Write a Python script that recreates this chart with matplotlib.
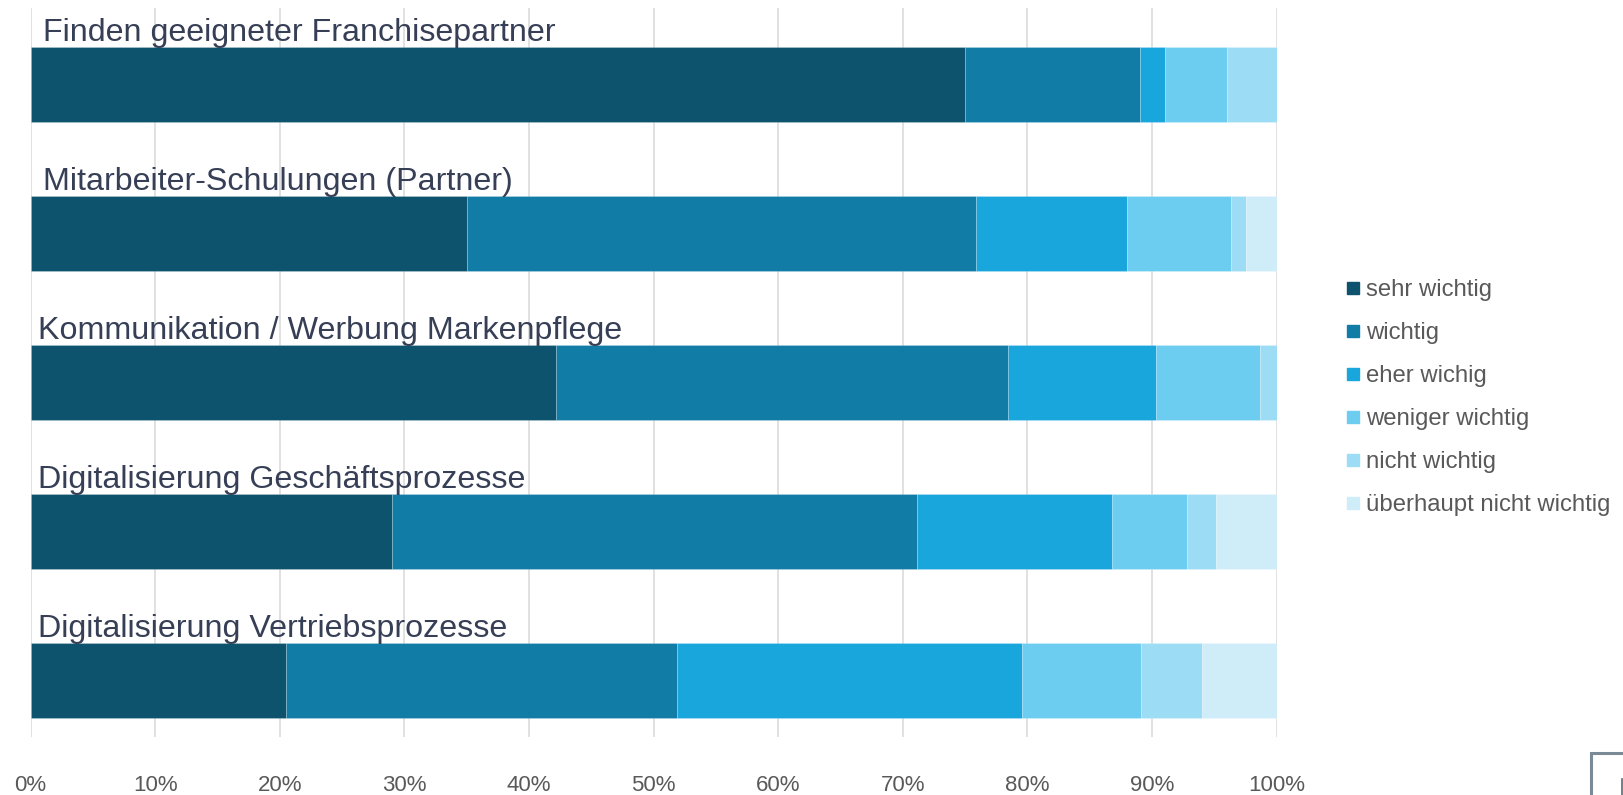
import matplotlib.pyplot as plt
from matplotlib.lines import Line2D
from matplotlib.patches import Rectangle
import numpy as np

plt.rcParams['font.family'] = ['Liberation Sans', 'DejaVu Sans']

categories = [
    "Finden geeigneter Franchisepartner",
    "Mitarbeiter-Schulungen (Partner)",
    "Kommunikation / Werbung Markenpflege",
    "Digitalisierung Geschäftsprozesse",
    "Digitalisierung Vertriebsprozesse",
]
series_names = ["sehr wichtig", "wichtig", "eher wichig", "weniger wichtig",
                "nicht wichtig", "überhaupt nicht wichtig"]

# shares in percent per category
sehr_wichtig = [75.0, 35.0, 42.2, 29.0, 20.5]
wichtig = [14.0, 40.9, 36.2, 42.1, 31.4]
eher_wichtig = [2.0, 12.1, 11.9, 15.7, 27.65]
weniger_wichtig = [5.0, 8.3, 8.4, 6.0, 9.55]
nicht_wichtig = [4.0, 1.2, 1.3, 2.3, 4.9]
ueberhaupt_nicht = [0.0, 2.5, 0.0, 4.9, 6.0]

tick_values = [0, 10, 20, 30, 40, 50, 60, 70, 80, 90, 100]

colors = ["#0e536e", "#117ca6", "#19a6dd", "#6ccdf0", "#9ddcf5", "#ceedf8"]

series = [sehr_wichtig, wichtig, eher_wichtig, weniger_wichtig,
          nicht_wichtig, ueberhaupt_nicht]

fig = plt.figure(figsize=(16.23, 7.95), dpi=100)
ax = fig.add_axes([0.0189, 0.073, 0.7677, 0.9166])

y = np.arange(len(categories))
left = np.zeros(len(categories))
for vals, col in zip(series, colors):
    ax.barh(y, vals, left=left, height=0.5, color=col,
            edgecolor=(1, 1, 1, 0.2), linewidth=0.7, zorder=2)
    left += np.array(vals)

# category names sit above each bar
label_x = [1.0, 1.0, 0.6, 0.6, 0.6]
for i, name in enumerate(categories):
    ax.text(label_x[i], y[i] - 0.29, name, fontsize=23.2, color="#363f55",
            va="baseline", ha="left", zorder=3)

ax.set_xlim(0, 100)
ax.set_ylim(4.38, -0.51)
ax.set_xticks(tick_values)
ax.set_xticklabels([f"{v}%" for v in tick_values], fontsize=16, color="#595959")
ax.set_yticks([])
ax.tick_params(axis="x", length=0, pad=27.5)
ax.grid(axis="x", color="#d9d9d9", linewidth=1.1)
ax.set_axisbelow(True)
for s in ax.spines.values():
    s.set_visible(False)

handles = [Line2D([0], [0], marker="s", linestyle="none", markersize=9,
                  markerfacecolor=c, markeredgecolor=c) for c in colors]
ax.legend(handles, series_names, loc="center left",
          bbox_to_anchor=(0.829, 0.5), bbox_transform=fig.transFigure,
          frameon=False, fontsize=17.2, labelcolor="#595959",
          handlelength=0.6, handletextpad=0.25, labelspacing=0.88,
          borderpad=0, borderaxespad=0)

# small framed box clipped at the lower right corner
fig.add_artist(Rectangle((1590.7 / 1623, -0.1), 0.1, 0.1 + 42 / 795,
                         transform=fig.transFigure, fill=False,
                         edgecolor="#7a8a96", linewidth=2.2))
fig.add_artist(Line2D([1621.5 / 1623, 1621.5 / 1623], [0, 16 / 795],
                      transform=fig.transFigure, color="#5a6a76", linewidth=1.2))

fig.savefig("out.png", dpi=100)
